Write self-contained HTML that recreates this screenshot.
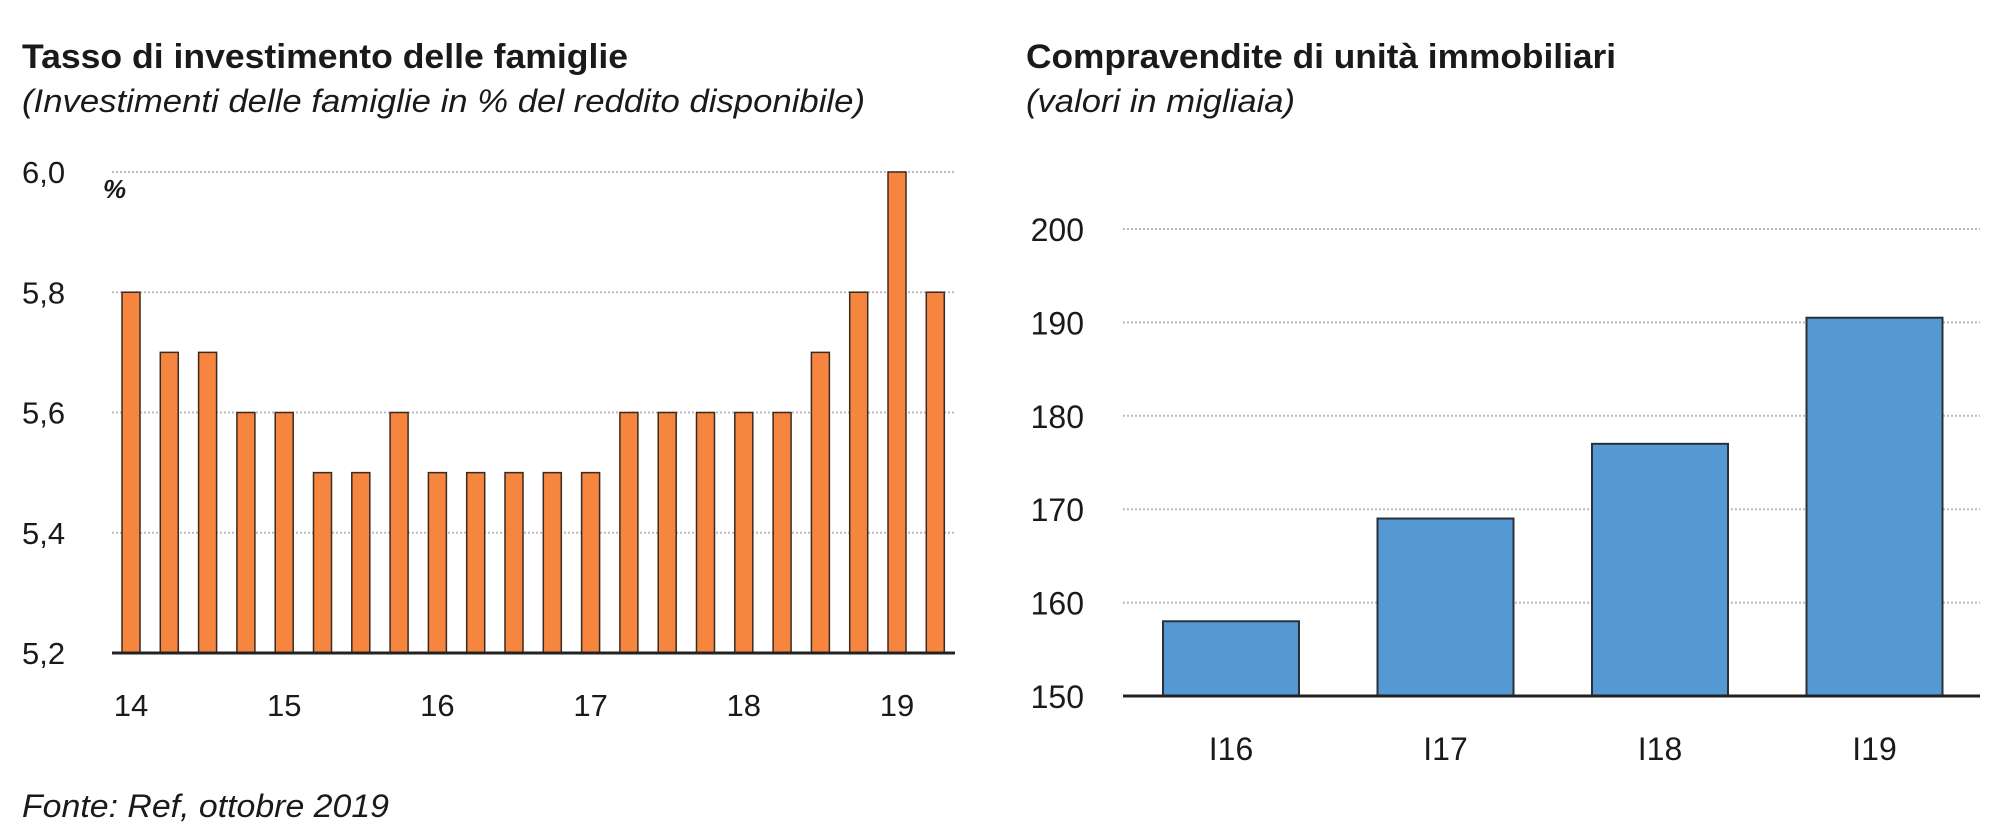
<!DOCTYPE html>
<html><head><meta charset="utf-8"><style>
html,body{margin:0;padding:0;background:#fff;}
svg{display:block;}
text{font-family:"Liberation Sans",sans-serif;fill:#1a1a1a;}
</style></head><body>
<svg id="c" width="1996" height="837" viewBox="0 0 1996 837">
<text x="22" y="68" font-size="34" font-weight="bold" textLength="606" lengthAdjust="spacingAndGlyphs">Tasso di investimento delle famiglie</text>
<text x="22" y="112" font-size="32" font-style="italic" textLength="843" lengthAdjust="spacingAndGlyphs" fill="#333">(Investimenti delle famiglie in % del reddito disponibile)</text>
<text x="1026" y="68" font-size="34" font-weight="bold" textLength="590" lengthAdjust="spacingAndGlyphs">Compravendite di unità immobiliari</text>
<text x="1026" y="112" font-size="32" font-style="italic" textLength="269" lengthAdjust="spacingAndGlyphs" fill="#333">(valori in migliaia)</text>
<text x="103" y="198" font-size="26" font-weight="bold" font-style="italic">%</text>
<text x="22" y="817" font-size="32" font-style="italic" textLength="367" lengthAdjust="spacingAndGlyphs" fill="#333">Fonte: Ref, ottobre 2019</text>
<g id="left"></g><g id="right"></g>
</svg>
<script>
const leftValues=[5.8,5.7,5.7,5.6,5.6,5.5,5.5,5.6,5.5,5.5,5.5,5.5,5.5,5.6,5.6,5.6,5.6,5.6,5.7,5.8,6.0,5.8];
const leftTicks=[5.2,5.4,5.6,5.8,6.0];
const leftTickLabels=["5,2","5,4","5,6","5,8","6,0"];
const leftYearLabels=["14","15","16","17","18","19"];
const rightCats=["I16","I17","I18","I19"];
const rightValues=[158,169,177,190.5];
const rightTicks=[150,160,170,180,190,200];

const NS="http://www.w3.org/2000/svg";
function mk(p,t,a){const e=document.createElementNS(NS,t);for(const k in a)e.setAttribute(k,a[k]);p.appendChild(e);return e;}

// left chart
const L=document.getElementById('left');
const ly=v=>653-(v-5.2)/(6.0-5.2)*(653-172);
const lx=i=>131+i*38.3;
leftTicks.forEach((t,i)=>{
  if(i>0){const g=mk(L,'line',{x1:112,x2:955,y1:ly(t),y2:ly(t),stroke:'#bbb','stroke-width':2,'stroke-dasharray':'2 2'});
  
  }
  const tx=mk(L,'text',{x:22,y:ly(t)+11,'font-size':31});tx.textContent=leftTickLabels[i];
  
  
});
leftValues.forEach((v,i)=>{
  const r=mk(L,'rect',{x:lx(i)-9,y:ly(v),width:18,height:ly(5.2)-ly(v),fill:'#F5853F',stroke:'#3a2a20','stroke-width':1.5});
  
  
});
const lb=mk(L,'line',{x1:112,x2:955,y1:653,y2:653,stroke:'#222','stroke-width':3});


leftYearLabels.forEach((s,i)=>{
  const t=mk(L,'text',{x:lx(i*4),y:716,'font-size':31,'text-anchor':'middle'});t.textContent=s;
  
  
});

// right chart
const R=document.getElementById('right');
const ry=v=>696-(v-150)/(200-150)*(696-229);
const rx=i=>1231+i*214.5;
rightTicks.forEach(t=>{
  if(t>150){const g=mk(R,'line',{x1:1123,x2:1980,y1:ry(t),y2:ry(t),stroke:'#bbb','stroke-width':2,'stroke-dasharray':'2 2'});
  
  }
  const tx=mk(R,'text',{x:1084,y:ry(t)+12,'font-size':32,'text-anchor':'end'});tx.textContent=String(t);
  
  
});
rightValues.forEach((v,i)=>{
  const r=mk(R,'rect',{x:rx(i)-68,y:ry(v),width:136,height:ry(150)-ry(v),fill:'#5499D3',stroke:'#2a2f38','stroke-width':2});
  
  
});
const rb=mk(R,'line',{x1:1123,x2:1980,y1:696,y2:696,stroke:'#222','stroke-width':3});


rightCats.forEach((s,i)=>{
  const t=mk(R,'text',{x:rx(i),y:760,'font-size':32,'text-anchor':'middle'});t.textContent=s;
  
  
});
</script>
</body></html>
